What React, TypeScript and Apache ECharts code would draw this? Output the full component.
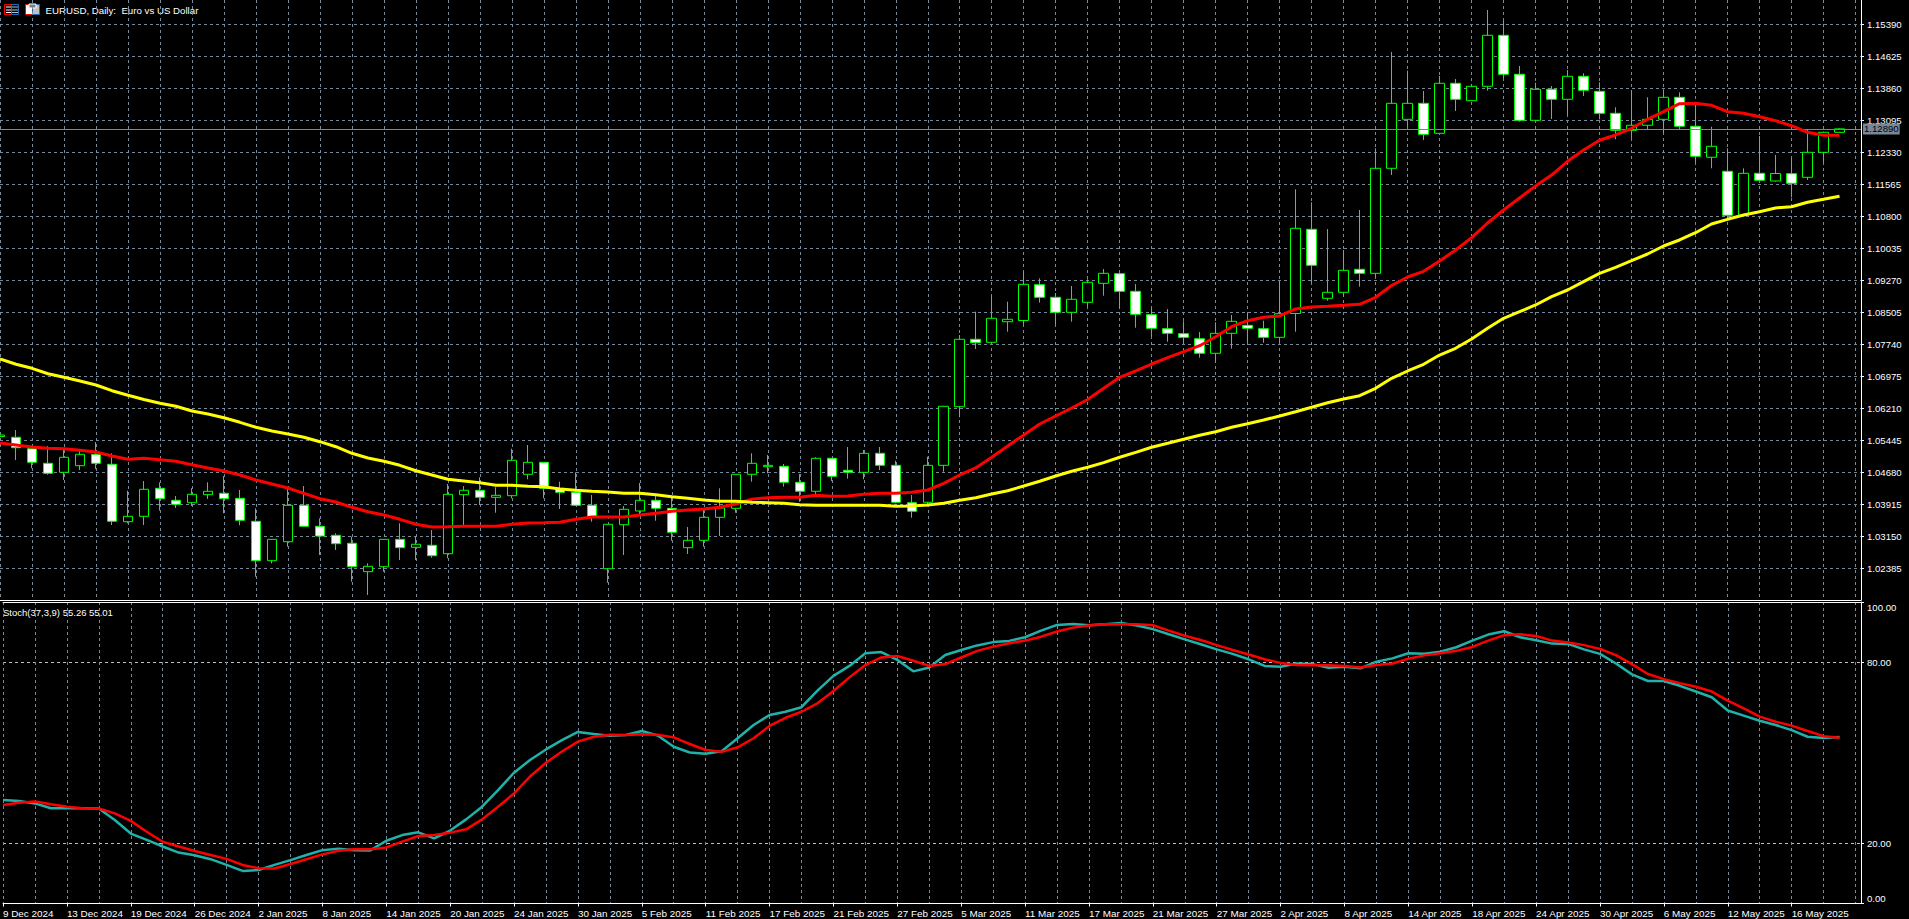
import React, { useEffect, useRef } from 'react';
import * as echarts from 'echarts';

const opens = [1.05536, 1.05517, 1.05244, 1.04895, 1.0468, 1.04838, 1.0511, 1.04871, 1.03499, 1.03628, 1.04298, 1.04011, 1.03953, 1.04145, 1.04178, 1.04058, 1.03509, 1.02567, 1.03021, 1.03891, 1.03389, 1.03174, 1.02983, 1.02304, 1.02423, 1.03078, 1.02887, 1.02935, 1.02734, 1.04145, 1.0425, 1.04082, 1.04121, 1.04632, 1.04919, 1.04298, 1.04202, 1.03891, 1.02375, 1.03427, 1.03755, 1.04011, 1.03819, 1.02878, 1.03054, 1.03604, 1.03819, 1.04632, 1.04814, 1.04823, 1.04441, 1.04226, 1.05015, 1.04728, 1.0468, 1.05134, 1.04847, 1.03953, 1.03963, 1.04847, 1.06248, 1.0786, 1.07788, 1.0828, 1.08309, 1.09165, 1.08864, 1.08505, 1.08744, 1.09198, 1.09428, 1.09007, 1.08448, 1.08113, 1.07994, 1.07874, 1.07525, 1.08003, 1.08194, 1.08113, 1.07907, 1.08476, 1.10489, 1.0884, 1.08983, 1.09533, 1.09437, 1.11948, 1.13119, 1.13501, 1.12784, 1.1398, 1.13564, 1.13908, 1.15127, 1.14195, 1.13095, 1.13836, 1.13597, 1.14147, 1.13788, 1.13262, 1.12856, 1.12976, 1.13119, 1.13645, 1.12952, 1.12211, 1.11876, 1.10824, 1.11828, 1.11644, 1.11819, 1.11732, 1.1233, 1.12808];
const closes = [1.05572, 1.05268, 1.04919, 1.04656, 1.05039, 1.0511, 1.04895, 1.03509, 1.03628, 1.04274, 1.04049, 1.03915, 1.04154, 1.04226, 1.04049, 1.03533, 1.02567, 1.03078, 1.03891, 1.03389, 1.03157, 1.02973, 1.02423, 1.02433, 1.03078, 1.02878, 1.02959, 1.02686, 1.04154, 1.0425, 1.04082, 1.0413, 1.04967, 1.04919, 1.04298, 1.04202, 1.03891, 1.03619, 1.03437, 1.03796, 1.04011, 1.03819, 1.03246, 1.03054, 1.03604, 1.03827, 1.04632, 1.04895, 1.04847, 1.04441, 1.04226, 1.05015, 1.04584, 1.0468, 1.05134, 1.04847, 1.03963, 1.03748, 1.04847, 1.06258, 1.0786, 1.07778, 1.08362, 1.08338, 1.09174, 1.08864, 1.08505, 1.08816, 1.09222, 1.09437, 1.09007, 1.08457, 1.08123, 1.08003, 1.07907, 1.07525, 1.08003, 1.0829, 1.08123, 1.07907, 1.08472, 1.10513, 1.09629, 1.08983, 1.09509, 1.09437, 1.11948, 1.13501, 1.13501, 1.1276, 1.1398, 1.13597, 1.13908, 1.15127, 1.14195, 1.13095, 1.13836, 1.13597, 1.14147, 1.13812, 1.13262, 1.12856, 1.12976, 1.13119, 1.13645, 1.12952, 1.12234, 1.12474, 1.10824, 1.11828, 1.11661, 1.11823, 1.11589, 1.1233, 1.12808, 1.1289];
const highs = [1.05644, 1.05691, 1.05285, 1.05309, 1.0523, 1.05237, 1.05404, 1.05134, 1.0424, 1.04472, 1.04441, 1.04114, 1.04298, 1.04441, 1.04592, 1.04257, 1.03819, 1.03085, 1.04305, 1.04352, 1.0358, 1.03222, 1.0314, 1.02504, 1.03085, 1.03461, 1.03157, 1.03301, 1.044, 1.04352, 1.04561, 1.04321, 1.05244, 1.05333, 1.04926, 1.04455, 1.0468, 1.04137, 1.03444, 1.03874, 1.04424, 1.04137, 1.04066, 1.03372, 1.03779, 1.04298, 1.04639, 1.05134, 1.05094, 1.04879, 1.04639, 1.05039, 1.05022, 1.05285, 1.05213, 1.05285, 1.04957, 1.04137, 1.05053, 1.06265, 1.07962, 1.08519, 1.08895, 1.08759, 1.09461, 1.09318, 1.08967, 1.09134, 1.09294, 1.0954, 1.09445, 1.09182, 1.08601, 1.08584, 1.0829, 1.08034, 1.08266, 1.08441, 1.08496, 1.08304, 1.09253, 1.11446, 1.11135, 1.10496, 1.09994, 1.10951, 1.12426, 1.14728, 1.14281, 1.13796, 1.14154, 1.14082, 1.13963, 1.15732, 1.15469, 1.14393, 1.13994, 1.13915, 1.14298, 1.14219, 1.14004, 1.13406, 1.13819, 1.13645, 1.13836, 1.13764, 1.13509, 1.12942, 1.12426, 1.11948, 1.1272, 1.12266, 1.12187, 1.12863, 1.12823, 1.12904];
const lows = [1.05476, 1.04974, 1.04776, 1.04623, 1.04496, 1.04735, 1.04759, 1.0342, 1.03461, 1.0342, 1.03762, 1.03827, 1.03874, 1.04042, 1.037, 1.03413, 1.02184, 1.02504, 1.02901, 1.03372, 1.02703, 1.02823, 1.02065, 1.01747, 1.02304, 1.02583, 1.02583, 1.02638, 1.02624, 1.0342, 1.03898, 1.03714, 1.04058, 1.04513, 1.04058, 1.03803, 1.03874, 1.03499, 1.02041, 1.02703, 1.03659, 1.03523, 1.03045, 1.02727, 1.02901, 1.03157, 1.03714, 1.04455, 1.04656, 1.04336, 1.03977, 1.04137, 1.04472, 1.04527, 1.04513, 1.04735, 1.03939, 1.03595, 1.03858, 1.04694, 1.05995, 1.07628, 1.07764, 1.08041, 1.08209, 1.08735, 1.08209, 1.0828, 1.08639, 1.08902, 1.08591, 1.08137, 1.07922, 1.07802, 1.07747, 1.0742, 1.07324, 1.07635, 1.07788, 1.07778, 1.07778, 1.08041, 1.09213, 1.08782, 1.08878, 1.09117, 1.09342, 1.11787, 1.12942, 1.12624, 1.12775, 1.13317, 1.13557, 1.13803, 1.14099, 1.13062, 1.13086, 1.13126, 1.13222, 1.13676, 1.13119, 1.12641, 1.12665, 1.1288, 1.12784, 1.1288, 1.12082, 1.11948, 1.10712, 1.10791, 1.11651, 1.11627, 1.11254, 1.11668, 1.12082, 1.12799];

// moving averages
const redMa = [1.05381, 1.05333, 1.05285, 1.05254, 1.05244, 1.05206, 1.05165, 1.0507, 1.04991, 1.05015, 1.04981, 1.04943, 1.04862, 1.04783, 1.04711, 1.04616, 1.04496, 1.044, 1.04305, 1.04178, 1.04049, 1.0397, 1.03843, 1.03738, 1.03659, 1.03556, 1.03437, 1.03372, 1.0338, 1.03389, 1.03389, 1.03389, 1.03437, 1.03468, 1.03475, 1.03485, 1.03556, 1.03611, 1.03611, 1.03611, 1.03659, 1.037, 1.03748, 1.03779, 1.03803, 1.03843, 1.03922, 1.04035, 1.04073, 1.04082, 1.04082, 1.0413, 1.04106, 1.04114, 1.04154, 1.04178, 1.04178, 1.04202, 1.04257, 1.04417, 1.04616, 1.04783, 1.05039, 1.05309, 1.05572, 1.05835, 1.06026, 1.06217, 1.0642, 1.06688, 1.06951, 1.07102, 1.07269, 1.0742, 1.07563, 1.07707, 1.07922, 1.08161, 1.08304, 1.08386, 1.08417, 1.08584, 1.08632, 1.08649, 1.08672, 1.08696, 1.08864, 1.09146, 1.09349, 1.09485, 1.09732, 1.09994, 1.10289, 1.1064, 1.10951, 1.11238, 1.11524, 1.11787, 1.12115, 1.12385, 1.12617, 1.12744, 1.12904, 1.13119, 1.13301, 1.13492, 1.13501, 1.13454, 1.13301, 1.13262, 1.13181, 1.13086, 1.12966, 1.12808, 1.12737, 1.12737];
const yellowMa = [1.07389, 1.07262, 1.07166, 1.07037, 1.06951, 1.06863, 1.06767, 1.06631, 1.06521, 1.0642, 1.0633, 1.06258, 1.06146, 1.06074, 1.05985, 1.05875, 1.05756, 1.05667, 1.05596, 1.05517, 1.05412, 1.05292, 1.05134, 1.05022, 1.04943, 1.04847, 1.04718, 1.04616, 1.04513, 1.04472, 1.04431, 1.04369, 1.04369, 1.04345, 1.04336, 1.04281, 1.0425, 1.04226, 1.04209, 1.04178, 1.04178, 1.04145, 1.04097, 1.04058, 1.04018, 1.03987, 1.03987, 1.03963, 1.03953, 1.03939, 1.03905, 1.03891, 1.03891, 1.03891, 1.03891, 1.03891, 1.03867, 1.03874, 1.03898, 1.03939, 1.04011, 1.04073, 1.04161, 1.0424, 1.04352, 1.04465, 1.04592, 1.04704, 1.048, 1.0491, 1.05039, 1.05158, 1.05278, 1.05373, 1.05469, 1.05565, 1.05651, 1.05756, 1.05842, 1.0593, 1.06026, 1.06129, 1.06234, 1.06344, 1.06432, 1.06511, 1.06688, 1.06927, 1.07102, 1.07262, 1.07484, 1.07644, 1.07867, 1.08123, 1.08362, 1.08519, 1.0868, 1.08878, 1.09038, 1.09237, 1.09437, 1.09581, 1.09739, 1.09899, 1.1009, 1.10234, 1.10408, 1.10616, 1.10728, 1.10831, 1.1091, 1.10999, 1.1103, 1.11135, 1.11206, 1.11278];

// Stoch(37,3,9)
const stochMain = [34.3, 34, 33.2, 31.6, 31.6, 31.6, 31.5, 27.7, 23.2, 21.1, 18.9, 16.9, 16, 14.7, 12.8, 10.8, 11.1, 12.8, 14.4, 16.1, 17.7, 18.2, 17.7, 17.6, 20.8, 22.7, 23.6, 21.6, 24.2, 27.9, 32.1, 37.6, 43.4, 47.6, 51.1, 54.2, 56.9, 56.2, 55.6, 55.9, 57.2, 55.7, 52, 50.1, 49.7, 50.5, 54.8, 59.2, 62.5, 63.6, 65.1, 70.6, 75.5, 78.8, 83, 83.4, 80.8, 77, 78.3, 82.4, 84.1, 85.6, 86.7, 87.1, 88.3, 90.5, 92.4, 92.7, 92.3, 92.6, 93, 92.2, 91, 89.3, 87.6, 86, 84.3, 82.8, 81, 78.8, 78.5, 79.6, 79.4, 78.2, 78.5, 78, 80.2, 81.3, 83, 82.8, 83.5, 85, 87.2, 89.2, 90.3, 88.3, 87.3, 86.2, 86.1, 84.3, 82.8, 79.6, 76, 73.8, 73.8, 72.2, 70.3, 68.4, 64, 62.3, 60.6, 59.2, 57.5, 55.3, 54.9, 55.26];
const stochSignal = [32.7, 33.4, 33.8, 32.9, 32.1, 31.6, 31.5, 29.9, 27.4, 23.8, 20.5, 18.9, 17.4, 16.1, 14.8, 12.8, 11.7, 11.6, 13.1, 14.7, 16.3, 17.5, 18, 18, 18.6, 20.5, 22.4, 22.7, 23.5, 24.6, 27.9, 32.1, 36.5, 42.1, 46.7, 50.4, 53.7, 55.3, 56, 55.9, 56.1, 56, 55.1, 52.9, 50.9, 50.3, 51.8, 54.8, 58.9, 61.6, 63.6, 66.4, 70.5, 75, 79.1, 81.6, 82.1, 80.5, 78.8, 79.4, 81.6, 83.8, 85.2, 86.3, 87.2, 88.5, 90.2, 91.5, 92.2, 92.6, 92.6, 92.6, 92.3, 90.5, 88.8, 87.4, 85.7, 84.1, 82.6, 81, 79.8, 79.1, 79, 79, 78.8, 78.3, 79.1, 79.6, 81.2, 82.3, 83, 83.8, 85.1, 87.2, 89, 89.3, 88.7, 87.2, 86.6, 85.7, 84.4, 82.4, 79.4, 76.1, 74.4, 73.1, 71.9, 70.3, 67.3, 64.7, 62, 60.3, 59, 57.2, 55.5, 55.01];

// one label every 4 bars
const dateLabels = ['9 Dec 2024', '13 Dec 2024', '19 Dec 2024', '26 Dec 2024', '2 Jan 2025', '8 Jan 2025', '14 Jan 2025', '20 Jan 2025', '24 Jan 2025', '30 Jan 2025', '5 Feb 2025', '11 Feb 2025', '17 Feb 2025', '21 Feb 2025', '27 Feb 2025', '5 Mar 2025', '11 Mar 2025', '17 Mar 2025', '21 Mar 2025', '27 Mar 2025', '2 Apr 2025', '8 Apr 2025', '14 Apr 2025', '18 Apr 2025', '24 Apr 2025', '30 Apr 2025', '6 May 2025', '12 May 2025', '16 May 2025'];
const priceTicks = [1.1539, 1.14625, 1.1386, 1.13095, 1.1233, 1.11565, 1.108, 1.10035, 1.0927, 1.08505, 1.0774, 1.06975, 1.0621, 1.05445, 1.0468, 1.03915, 1.0315, 1.02385];
const stochTicks = [0, 20, 80, 100];
const lastPrice = 1.1289;

const GRID = '#778899';
const FONT = '"Liberation Sans", Arial, sans-serif';
const DATE_SIZE = 9.9;
const PRICE_SIZE = 9.6;
const xMax = 1861.5 / 16;
const gridBars = Array.from({ length: 59 }, (_, k) => k * 2);
const labelBars = dateLabels.map((_, k) => k * 4);

const flatX = (gridIndex: number, extra: object) => ({
  type: 'value',
  gridIndex,
  min: 0,
  max: xMax,
  axisLabel: { show: false },
  axisTick: { show: false },
  splitLine: { show: false },
  axisLine: { onZero: false, lineStyle: { color: '#fff', width: 1 } },
  ...extra,
});

const edgeLabel = { color: '#fff', fontFamily: FONT, fontSize: PRICE_SIZE };

const option = {
  animation: false,
  backgroundColor: '#000',
  textStyle: { fontFamily: FONT },
  grid: [
    { left: -0.5, top: 0, width: 1861.5, height: 600 },
    { left: -0.5, top: 602, width: 1861.5, height: 301.5 },
  ],
  xAxis: [
    flatX(0, {
      position: 'bottom',
      axisTick: { show: false, customValues: gridBars },
      splitLine: { show: true, lineStyle: { color: GRID, type: [3, 3], width: 1 } },
    }),
    flatX(1, {
      position: 'top',
      axisTick: { show: false, customValues: gridBars },
      splitLine: { show: true, lineStyle: { color: GRID, type: [3, 3], width: 1 } },
    }),
    flatX(1, {
      position: 'bottom',
      axisTick: { show: true, length: 3, inside: false, customValues: labelBars, lineStyle: { color: '#fff' } },
      axisLabel: {
        show: true,
        customValues: labelBars,
        color: '#fff',
        fontFamily: FONT,
        fontSize: DATE_SIZE,
        align: 'left',
        margin: 5,
        formatter: (v: number) => dateLabels[Math.round(v / 4)],
      },
    }),
  ],
  yAxis: [
    {
      type: 'value',
      gridIndex: 0,
      position: 'right',
      min: 1.15971 - 600 * 0.000239063,
      max: 1.15971,
      axisLine: { show: true, onZero: false, lineStyle: { color: '#fff' } },
      axisTick: { show: true, length: 3, customValues: priceTicks, lineStyle: { color: '#fff' } },
      axisLabel: {
        customValues: priceTicks,
        color: '#fff',
        fontFamily: FONT,
        fontSize: PRICE_SIZE,
        margin: 6,
        formatter: (v: number) => v.toFixed(5),
      },
      splitLine: { show: true, lineStyle: { color: GRID, type: [3, 3], width: 1 } },
    },
    {
      type: 'value',
      gridIndex: 1,
      position: 'right',
      min: 0,
      max: 100,
      axisLine: { show: true, onZero: false, lineStyle: { color: '#fff' } },
      axisTick: { show: true, length: 3, customValues: stochTicks, lineStyle: { color: '#fff' } },
      axisLabel: {
        customValues: stochTicks,
        color: '#fff',
        fontFamily: FONT,
        fontSize: PRICE_SIZE,
        margin: 6,
        // 100.00 and 0.00 sit inside the pane, not centred on their ticks
        formatter: (v: number) => {
          if (v === 100) return `{high|${v.toFixed(2)}}`;
          if (v === 0) return `{low|${v.toFixed(2)}}`;
          return v.toFixed(2);
        },
        rich: {
          high: { ...edgeLabel, padding: [11, 0, 0, 0] },
          low: { ...edgeLabel, padding: [0, 0, 11, 0] },
        },
      },
      splitLine: { show: true, showMinLine: false, showMaxLine: false, lineStyle: { color: '#c0c0c0', type: [3, 3], width: 1 } },
    },
  ],
  series: [
    {
      type: 'candlestick',
      xAxisIndex: 0,
      yAxisIndex: 0,
      barWidth: 10,
      data: opens.map((o, i) => [i, o, closes[i], lows[i], highs[i]]),
      itemStyle: { color: '#000', color0: '#fff', borderColor: '#00ff00', borderColor0: '#00ff00', borderWidth: 1 },
      markLine: {
        silent: true,
        symbol: 'none',
        animation: false,
        precision: 5,
        data: [{ yAxis: lastPrice }],
        lineStyle: { color: GRID, type: 'solid', width: 1 },
        label: {
          show: true,
          position: 'end',
          distance: 2,
          formatter: lastPrice.toFixed(5),
          color: '#000',
          fontFamily: FONT,
          fontSize: PRICE_SIZE,
          backgroundColor: GRID,
          padding: [1, 1, 0, 1],
          lineHeight: 10,
        },
      },
    },
    ...[
      { data: redMa, color: '#ff0000' },
      { data: yellowMa, color: '#ffff00' },
    ].map((s) => ({
      type: 'line',
      xAxisIndex: 0,
      yAxisIndex: 0,
      z: 5,
      symbol: 'none',
      data: s.data.map((v, i) => [i, v]),
      lineStyle: { color: s.color, width: 3 },
    })),
    ...[
      { data: stochMain, color: '#20b2aa' },
      { data: stochSignal, color: '#ff0000' },
    ].map((s) => ({
      type: 'line',
      xAxisIndex: 1,
      yAxisIndex: 1,
      z: 5,
      symbol: 'none',
      data: s.data.map((v, i) => [i, v]),
      lineStyle: { color: s.color, width: 2.5 },
    })),
  ],
  graphic: [
    // the two toolbar-style icons next to the title
    { type: 'rect', shape: { x: 4.5, y: 4.5, width: 7, height: 10 }, style: { fill: '#000', stroke: '#ff0000', lineWidth: 1 } },
    { type: 'rect', shape: { x: 11.5, y: 4.5, width: 7, height: 10 }, style: { fill: '#000', stroke: '#1f6fb5', lineWidth: 1 } },
    { type: 'rect', shape: { x: 6, y: 6.5, width: 5, height: 1 }, style: { fill: '#fff' } },
    { type: 'rect', shape: { x: 6, y: 9.5, width: 5, height: 1 }, style: { fill: '#fff' } },
    { type: 'rect', shape: { x: 6, y: 12, width: 5, height: 1 }, style: { fill: '#fff' } },
    { type: 'rect', shape: { x: 12, y: 6.5, width: 6, height: 1 }, style: { fill: '#a9c4dc' } },
    { type: 'rect', shape: { x: 12, y: 9.5, width: 6, height: 1 }, style: { fill: '#a9c4dc' } },
    { type: 'rect', shape: { x: 12, y: 12, width: 6, height: 1 }, style: { fill: '#a9c4dc' } },
    { type: 'rect', shape: { x: 25.5, y: 4.5, width: 7, height: 10 }, style: { fill: '#fff', stroke: '#ff0000', lineWidth: 1 } },
    { type: 'rect', shape: { x: 32.5, y: 4.5, width: 7, height: 10 }, style: { fill: '#c0c0c0', stroke: '#1f6fb5', lineWidth: 1 } },
    { type: 'rect', shape: { x: 29, y: 4, width: 7, height: 4 }, style: { fill: '#708090', stroke: '#fff', lineWidth: 1 } },
    {
      type: 'text',
      x: 45.5,
      y: 10,
      style: { text: 'EURUSD, Daily:  Euro vs US Dollar', fill: '#fff', font: `9.7px ${FONT}`, textVerticalAlign: 'middle' },
    },
    {
      type: 'text',
      x: 3,
      y: 612,
      style: { text: 'Stoch(37,3,9) 55.26 55.01', fill: '#fff', font: `9.5px ${FONT}`, textVerticalAlign: 'middle' },
    },
  ],
};

export default function App() {
  const ref = useRef<HTMLDivElement>(null);

  useEffect(() => {
    document.body.style.margin = '0';
    document.body.style.background = '#000';
    if (!ref.current) return;
    const chart = echarts.init(ref.current, null, { renderer: 'svg' });
    chart.setOption(option as any);
    return () => chart.dispose();
  }, []);

  return <div ref={ref} style={{ width: 1909, height: 919 }} />;
}
